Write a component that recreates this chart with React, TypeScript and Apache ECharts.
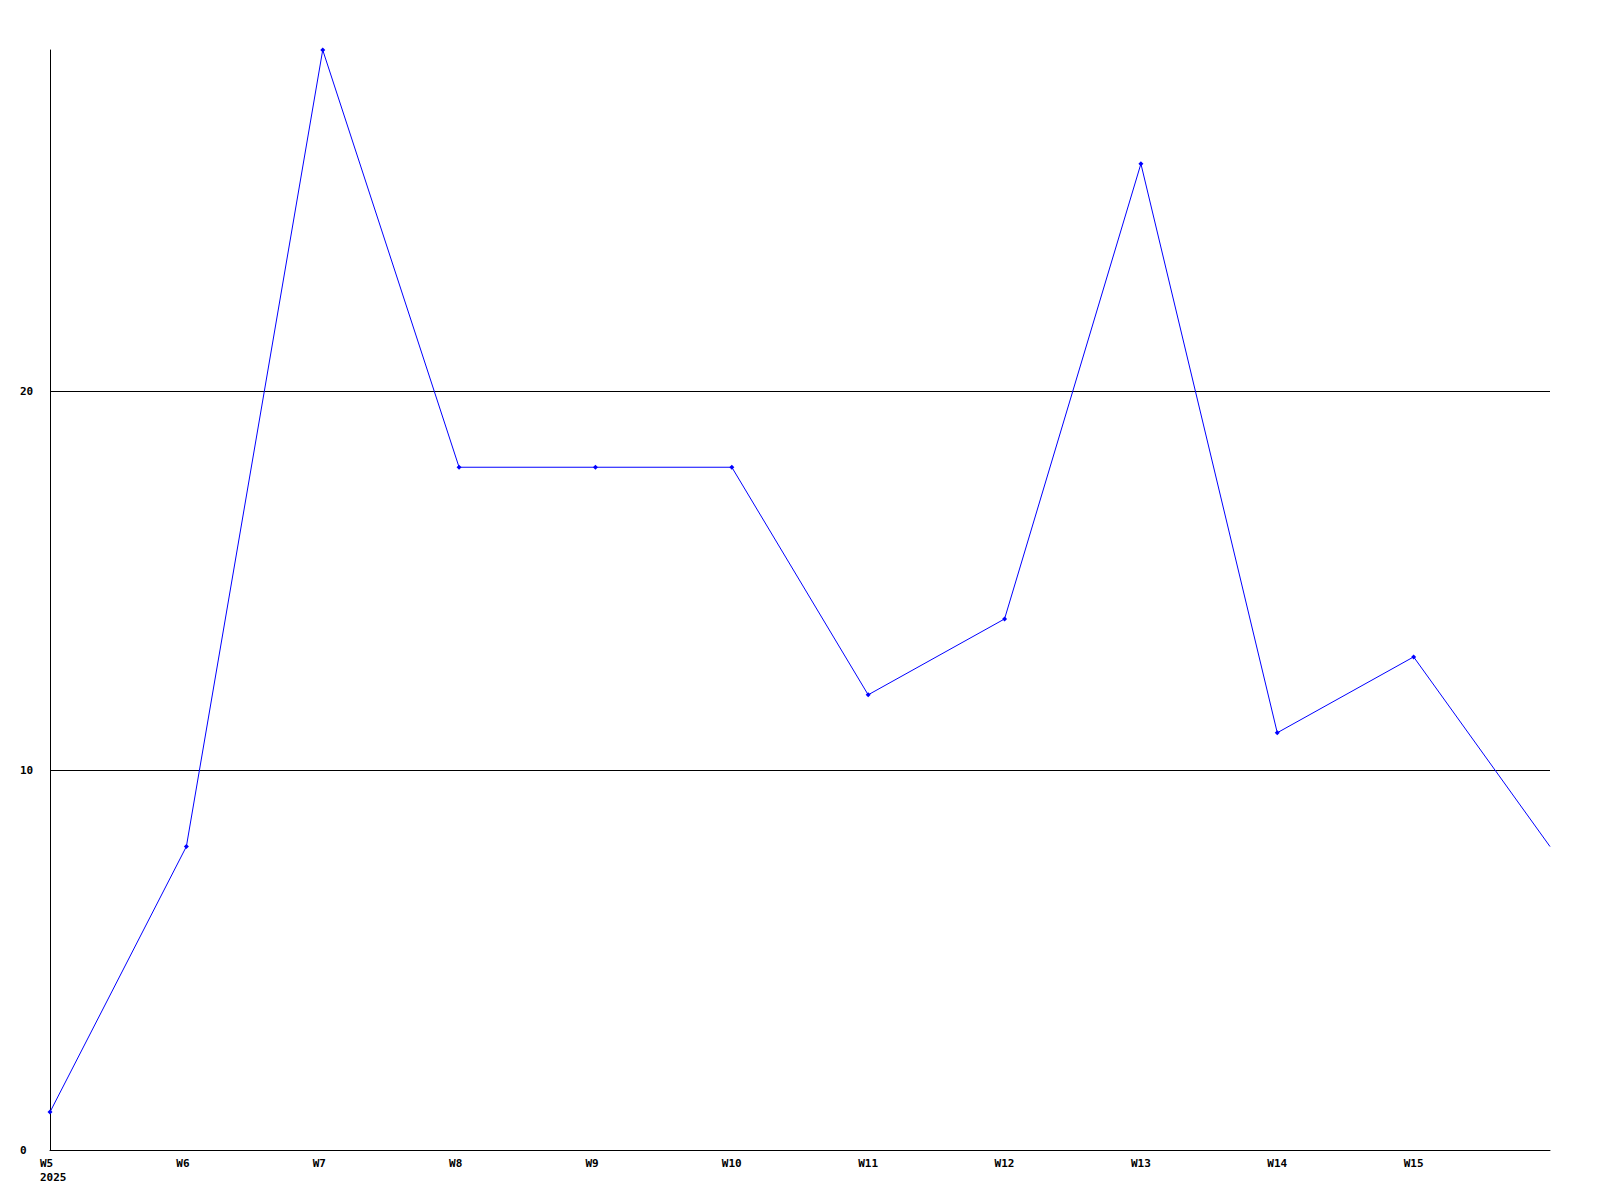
import React, { useEffect, useRef } from "react";
import * as echarts from "echarts";

const weeks = ["W5", "W6", "W7", "W8", "W9", "W10", "W11", "W12", "W13", "W14", "W15", "W16"];
const values = [1, 8, 29, 18, 18, 18, 12, 14, 26, 11, 13, 8];
const yearLabel = "2025";
const yTicks = [0, 10, 20];

const FONT = "DejaVu Sans Mono";

export default function App() {
  const ref = useRef<HTMLDivElement>(null);
  useEffect(() => {
    if (!ref.current) return;
    const chart = echarts.init(ref.current, null, { renderer: "svg" });
    const lastIdx = values.length - 1;
    const textBase = {
      color: "#000",
      fontFamily: FONT,
      fontWeight: "bold" as const,
      fontSize: 11,
      lineHeight: 14,
    };
    chart.setOption({
      animation: false,
      backgroundColor: "#ffffff",
      grid: { left: 50, right: 50, top: 50, bottom: 50, containLabel: false },
      xAxis: {
        type: "category",
        data: weeks,
        boundaryGap: false,
        axisLine: { show: true, lineStyle: { color: "#000", width: 1 } },
        axisTick: { show: false },
        splitLine: { show: false },
        axisLabel: {
          interval: 0,
          margin: 6,
          align: "center",
          ...textBase,
          rich: {
            a: { ...textBase, width: 20, align: "left" },
          },
          formatter: (v: string, i: number) =>
            i === 0
              ? "{a|" + v + "}\n{a|" + yearLabel + "}"
              : i === lastIdx
              ? ""
              : "{a|" + v + "}",
        },
      },
      yAxis: {
        type: "value",
        min: 0,
        max: Math.max(...values),
        interval: 10,
        axisLine: { show: true, lineStyle: { color: "#000", width: 1 } },
        axisTick: { show: false },
        splitLine: {
          show: true,
          showMinLine: false,
          showMaxLine: false,
          lineStyle: { color: "#000", width: 1 },
        },
        axisLabel: {
          margin: 17,
          showMaxLabel: false,
          align: "right",
          ...textBase,
          rich: {
            b: { ...textBase, width: 13, align: "left" },
          },
          formatter: (v: number) =>
            yTicks.includes(v) ? "{b|" + String(v) + "}" : "",
        },
      },
      series: [
        {
          type: "line",
          data: values.map((v, i) =>
            i === lastIdx ? { value: v, symbol: "none" } : v
          ),
          symbol: "diamond",
          symbolSize: 5,
          showAllSymbol: true,
          lineStyle: { color: "#0000ff", width: 1 },
          itemStyle: { color: "#0000ff" },
        },
      ],
    });
    return () => chart.dispose();
  }, []);
  return (
    <div
      ref={ref}
      style={{ position: "absolute", left: 0, top: 0, width: 1600, height: 1200 }}
    />
  );
}
